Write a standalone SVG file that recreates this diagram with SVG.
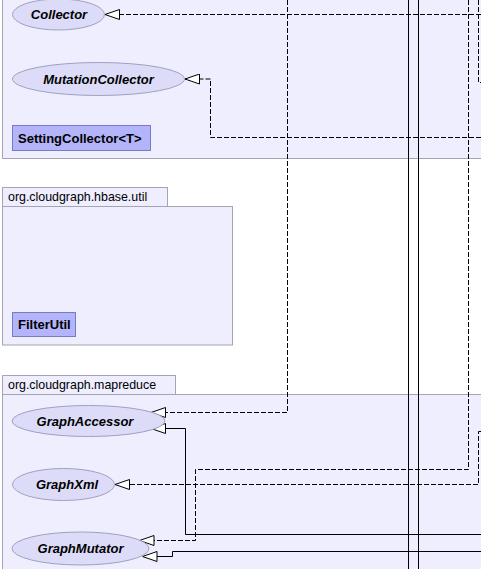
<svg xmlns="http://www.w3.org/2000/svg" width="481" height="569" viewBox="0 0 481 569">
<style>
.pkg{fill:#eeeeff;stroke:#a4a4b4;stroke-width:1}
.iface{fill:#dcdcf8;stroke:#a0a0c0;stroke-width:1}
.cls{fill:#b4b4fa;stroke:#7a7ac4;stroke-width:1}
.plabel{font-family:"Liberation Sans",Arial,sans-serif;font-size:12.4px;fill:#000}
.ilabel{font-family:"Liberation Sans",Arial,sans-serif;font-size:13px;font-weight:bold;font-style:italic;fill:#000;text-anchor:middle}
.clabel{font-family:"Liberation Sans",Arial,sans-serif;font-size:13px;font-weight:bold;fill:#000}
.dash{fill:none;stroke:#000;stroke-width:1;stroke-dasharray:5,2}
.solid{fill:none;stroke:#000;stroke-width:1}
</style>
<defs>
<marker id="tri" viewBox="0 0 15 11" refX="15" refY="5.5" markerWidth="15" markerHeight="11" markerUnits="userSpaceOnUse" orient="auto">
<path d="M0.5,0.5 L15,5.5 L0.5,10.5 Z" fill="#fff" stroke="#000" stroke-width="1" stroke-dasharray="none"/>
</marker>
</defs>
<rect width="481" height="569" fill="#fff"/>

<g id="pkg-collector">
<rect class="pkg" x="2.5" y="-10" width="490" height="168.5"/>
</g>
<g id="pkg-hbase-util">
<rect class="pkg" x="2.5" y="187.5" width="165" height="19"/>
<rect class="pkg" x="2.5" y="206.5" width="230" height="138.5"/>
<text class="plabel" x="8" y="201">org.cloudgraph.hbase.util</text>
</g>
<g id="pkg-mapreduce">
<rect class="pkg" x="2.5" y="375.5" width="173" height="19"/>
<rect class="pkg" x="2.5" y="394.5" width="490" height="200"/>
<text class="plabel" x="8" y="389">org.cloudgraph.mapreduce</text>
</g>

<g id="connectors">
<path class="dash" d="M481,14.5 H105" marker-end="url(#tri)"/>
<path class="dash" d="M481,137.5 H210.5 V79 H185" marker-end="url(#tri)"/>
<path class="dash" d="M478.5,0 V82.5 H481"/>
<path class="solid" d="M408.5,0 V569"/>
<path class="solid" d="M418.5,0 V569"/>
<path class="dash" d="M287.5,0 V412.5 H151" marker-end="url(#tri)"/>
<path class="solid" d="M481,534.5 H185.5 V428.5 H151" marker-end="url(#tri)"/>
<path class="dash" d="M481,431.5 H478.5 V484.5 H115" marker-end="url(#tri)"/>
<path class="dash" d="M468.5,0 V469.5 H195.5 V540.5 H139.5" marker-end="url(#tri)"/>
<path class="solid" d="M481,551.5 H172.5 V556.5 H142.5" marker-end="url(#tri)"/>
</g>

<g id="Collector">
<ellipse class="iface" cx="58.5" cy="14.5" rx="46" ry="15.5"/>
<text class="ilabel" x="59" y="19">Collector</text>
</g>
<g id="MutationCollector">
<ellipse class="iface" cx="98.5" cy="79" rx="86" ry="16.5"/>
<text class="ilabel" x="98.5" y="83.5">MutationCollector</text>
</g>
<g id="SettingCollector">
<rect class="cls" x="12.5" y="125.5" width="138" height="25"/>
<text class="clabel" x="18" y="142.5">SettingCollector&lt;T&gt;</text>
</g>
<g id="FilterUtil">
<rect class="cls" x="12.5" y="312.5" width="63" height="24"/>
<text class="clabel" x="18" y="329">FilterUtil</text>
</g>
<g id="GraphAccessor">
<ellipse class="iface" cx="88.5" cy="421" rx="76.5" ry="15.5"/>
<text class="ilabel" x="85" y="425.5">GraphAccessor</text>
</g>
<g id="GraphXml">
<ellipse class="iface" cx="63.5" cy="484.5" rx="51" ry="16"/>
<text class="ilabel" x="67" y="489">GraphXml</text>
</g>
<g id="GraphMutator">
<ellipse class="iface" cx="80.5" cy="548.5" rx="68.5" ry="16.5"/>
<text class="ilabel" x="80.5" y="553">GraphMutator</text>
</g>
</svg>
